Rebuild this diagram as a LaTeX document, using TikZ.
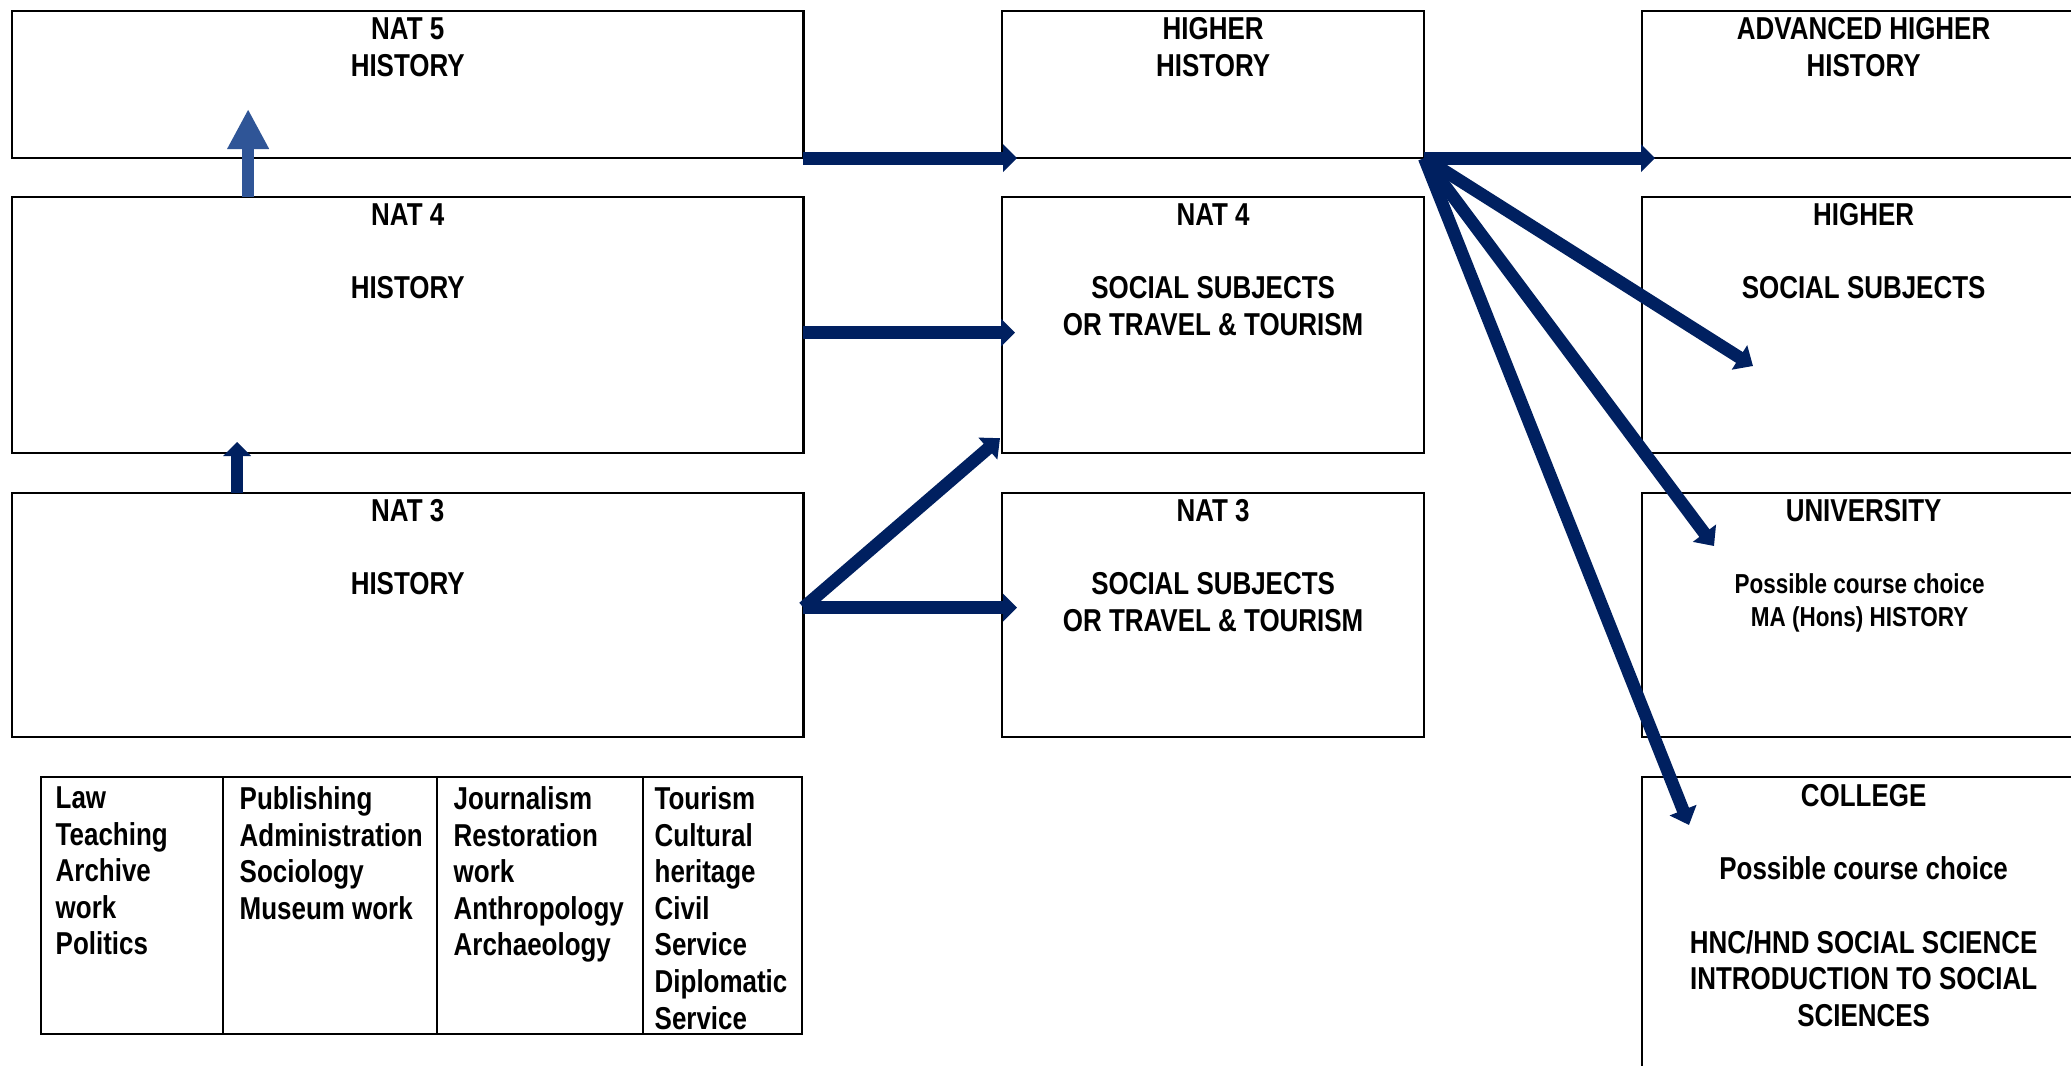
\documentclass[tikz,border=0pt]{standalone}
\usepackage{fontspec}
\setmainfont{Liberation Sans}[FakeStretch=0.82]
\usetikzlibrary{arrows.meta,positioning}
\definecolor{darknavy}{HTML}{002060}
\definecolor{steelblue}{HTML}{2F5597}
\begin{document}
\begin{tikzpicture}[x=0.01cm, y=-0.01cm,
        box/.style={draw, line width=0.45pt, anchor=north west, inner sep=0pt, outer sep=0pt},
        bigbox/.style={box, line width=0.6pt, minimum width=7.91cm},
        midbox/.style={box, minimum width=4.22cm},
        rightbox/.style={box, minimum width=4.43cm},
        txt/.style={inner sep=0pt, align=center, font=\bfseries\fontsize{9}{10.4}\selectfont},
        smalltxt/.style={inner sep=0pt, align=center, font=\bfseries\fontsize{7.8}{9.4}\selectfont},
        coltxt/.style={inner sep=0pt, align=left, anchor=north west, font=\bfseries\fontsize{9}{10.4}\selectfont},
        flow/.style={darknavy, line width=3.7pt, -{Triangle[width=0.27cm,length=0.14cm]}},
        fan/.style={darknavy, line width=3.6pt, -{Triangle[width=0.28cm,length=0.16cm]}}]
        \fill[white] (0,0) rectangle (2071,1066);
        \useasboundingbox (0,0) rectangle (2071,1066);

        % left column
        \node[bigbox, minimum height=1.47cm] (nat5) at (12,11) {};
        \node[bigbox, minimum height=2.56cm] (nat4) at (12,197) {};
        \node[bigbox, minimum height=2.44cm] (nat3) at (12,493) {};
        \node[txt, below=0.06cm of nat5.north] (nat5t) {NAT 5\\HISTORY};
        \node[txt, below=0.06cm of nat4.north] (nat4t) {NAT 4\\\mbox{}\\HISTORY};
        \node[txt, below=0.06cm of nat3.north] (nat3t) {NAT 3\\\mbox{}\\HISTORY};

        % middle column
        \node[midbox, minimum height=1.47cm] (higher) at (1002,11) {};
        \node[midbox, minimum height=2.56cm] (ssnat4) at (1002,197) {};
        \node[midbox, minimum height=2.44cm] (ssnat3) at (1002,493) {};
        \node[txt, below=0.06cm of higher.north] (highert) {HIGHER\\HISTORY};
        \node[txt, below=0.06cm of ssnat4.north] (ssnat4t) {NAT 4\\\mbox{}\\SOCIAL SUBJECTS\\OR TRAVEL \& TOURISM};
        \node[txt, below=0.06cm of ssnat3.north] (ssnat3t) {NAT 3\\\mbox{}\\SOCIAL SUBJECTS\\OR TRAVEL \& TOURISM};

        % right column
        \node[rightbox, minimum height=1.47cm] (advhigher) at (1642,11) {};
        \node[rightbox, minimum height=2.56cm] (sshigher) at (1642,197) {};
        \node[rightbox, minimum height=2.44cm] (uni) at (1642,493) {};
        \node[rightbox, minimum height=3.03cm] (college) at (1642,777) {};
        \node[txt, below=0.06cm of advhigher.north] (advhighert) {ADVANCED HIGHER\\HISTORY};
        \node[txt, below=0.06cm of sshigher.north] (sshighert) {HIGHER\\\mbox{}\\SOCIAL SUBJECTS};
        \node[txt, below=0.06cm of uni.north] (unit) {UNIVERSITY};
        \node[smalltxt, below=0.5cm of unit, xshift=-0.04cm] (unisub) {Possible course choice\\MA (Hons) HISTORY};
        \node[txt, below=0.07cm of college.north] (colleget) {COLLEGE\\\mbox{}\\Possible course choice\\\mbox{}\\HNC/HND SOCIAL SCIENCE\\INTRODUCTION TO SOCIAL\\SCIENCES};

        % careers table
        \node[box, line width=0.6pt, minimum width=7.61cm, minimum height=2.57cm] (jobs) at (41,777) {};
        \foreach \xx in {223,437,643}
            \draw[line width=0.6pt] (\xx,777) -- (\xx,1034);
        \node[coltxt] (col1) at (55,786) {Law\\Teaching\\Archive\\work\\Politics};
        \node[coltxt] (col2) at (239,786) {Publishing\\Administration\\Sociology\\Museum work};
        \node[coltxt] (col3) at (453,786) {Journalism\\Restoration\\work\\Anthropology\\Archaeology};
        \node[coltxt] (col4) at (654,786) {Tourism\\Cultural\\heritage\\Civil\\Service\\Diplomatic\\Service};

        % progression arrows
        \draw[steelblue, line width=3.4pt, -{Triangle[width=0.39cm,length=0.4cm]}] ([xshift=2.36cm]nat4.north west) -- ++(0,-88);
        \draw[darknavy, line width=3.4pt, -{Triangle[width=0.27cm,length=0.14cm]}] ([xshift=2.25cm]nat3.north west) -- ++(0,-51);
        \draw[flow] (nat5.south east) -- ([xshift=0.15cm]higher.south west);
        \draw[flow] ([yshift=-0.075cm]nat4.east) -- ([xshift=0.13cm,yshift=-0.075cm]ssnat4.west);
        \draw[flow] ([yshift=0.075cm]nat3.east) coordinate (fork) -- ([xshift=0.15cm,yshift=0.075cm]ssnat3.west);
        \draw[fan] (fork) -- ([xshift=-0.02cm,yshift=0.15cm]ssnat4.south west);

        \coordinate (shtip) at (1753,366);
        \coordinate (unitip) at (1714,546);
        \coordinate (coltip) at (1689,825);
        \draw[flow] (higher.south east) -- ([xshift=0.13cm]advhigher.south west);
        \draw[fan] (higher.south east) -- (shtip);
        \draw[fan] (higher.south east) -- (unitip);
        \draw[fan] (higher.south east) -- (coltip);
    \end{tikzpicture}
\end{document}
